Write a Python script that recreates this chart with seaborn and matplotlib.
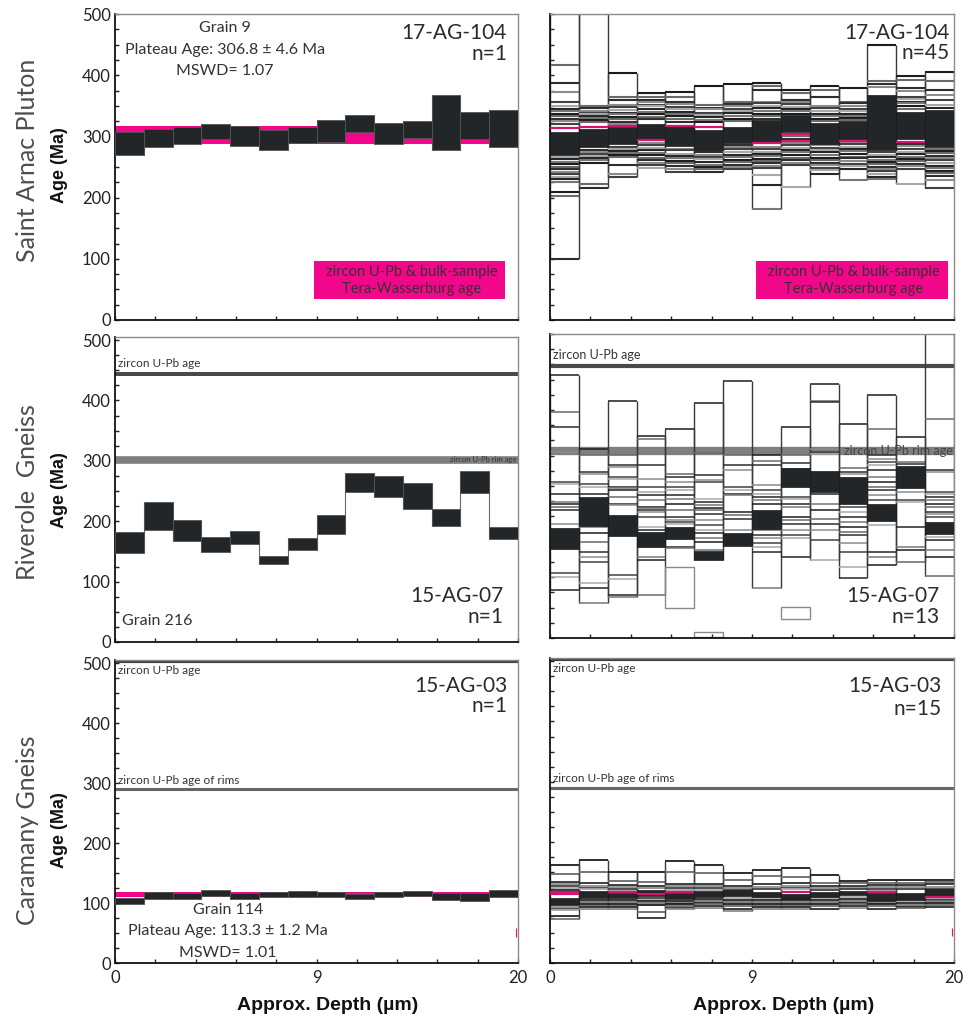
import matplotlib
matplotlib.use("Agg")
import matplotlib.pyplot as plt
from matplotlib.patches import Rectangle
import numpy as np
import seaborn as sns

sns.set_theme(style="white")
plt.rcParams['font.family'] = ['Lato', 'DejaVu Sans']

# ------------------------------------------------------------------ data
samples = ["17-AG-104", "15-AG-07", "15-AG-03"]
rock_names = ["Saint Arnac Pluton", "Riverole  Gneiss", "Caramany Gneiss"]
n_single = ["n=1", "n=1", "n=1"]
n_all = ["n=45", "n=13", "n=15"]
depth_tick_labels = ["0", "9", "20"]
age_ticks = [0, 100, 200, 300, 400, 500]
n_steps = 14

# single highlighted grains (step ages, low / high, Ma)
grain9_low = [269, 283, 287, 295, 285, 278, 289.5, 290.7, 306.6, 288, 298, 277, 295, 283]
grain9_high = [308, 311.5, 315, 321, 316.5, 310, 315, 326, 334.6, 322.5, 324.7, 367.6, 340, 343]
grain216_low = [147, 185, 168, 149, 163, 129, 151.7, 179.4, 247.8, 240, 220.6, 192.8, 246.7, 170.6]
grain216_high = [181.7, 231.7, 202.8, 174, 183, 143, 172, 210.6, 280, 275, 264, 220, 283, 190.6]
grain114_low = [98.5, 106.8, 106.8, 111, 106, 109.5, 110.5, 109.5, 106, 109.5, 112.2, 105, 104, 110.5]
grain114_high = [108.4, 118.8, 116, 121.6, 116, 118.8, 120.5, 117.7, 115, 117.7, 119.4, 116, 116, 122]

# zircon U-Pb / Tera-Wasserburg bands
tw_band_104 = [288, 317]
tw_band_03 = [110, 119]
upb_07 = [444, 448]          # left / right panel
rim_07 = [302, 307]
upb_03 = 503
rim_03 = 290

# all grains: box edges per depth step
tr_edges = [
    [500, 417, 387, 372, 356, 349, 344, 341, 337, 333, 329, 325, 321, 266, 263, 258, 255, 250, 247, 242, 238, 234, 231, 226, 209, 202, 100],
    [500, 349, 346, 342, 339, 337, 333, 330, 327, 323, 278, 275, 271, 268, 265, 261, 256, 223, 215],
    [404, 364, 360, 351, 348, 343, 339, 336, 332, 329, 324, 320, 283, 280, 276, 273, 270, 267, 253, 239, 234],
    [371, 365, 360, 357, 352, 349, 344, 340, 337, 332, 328, 289, 286, 281, 278, 273, 270, 265, 262, 257, 253, 249],
    [372, 364, 356, 353, 348, 345, 340, 336, 333, 328, 324, 280, 277, 272, 268, 265, 260, 256, 252, 247, 242],
    [383, 351, 347, 344, 339, 335, 332, 327, 323, 278, 275, 270, 266, 263, 258, 254, 250, 246, 242],
    [386, 357, 353, 350, 345, 341, 338, 333, 329, 325, 286, 282, 279, 274, 270, 267, 262, 258, 254, 250, 246],
    [387, 382, 376, 357, 354, 349, 346, 341, 337, 333, 329, 283, 280, 275, 271, 268, 263, 259, 256, 251, 248, 237, 220, 182],
    [376, 371, 360, 356, 353, 348, 344, 341, 336, 300, 295, 289, 286, 281, 277, 274, 269, 265, 262, 257, 253, 217],
    [383, 376, 365, 349, 346, 341, 337, 334, 329, 325, 289, 286, 281, 277, 274, 269, 265, 262, 257, 253, 249, 245, 238],
    [379, 357, 354, 349, 345, 342, 337, 333, 330, 326, 295, 291, 288, 283, 279, 276, 271, 267, 264, 259, 255, 251, 247, 228],
    [450, 390, 385, 380, 274, 270, 267, 262, 258, 255, 250, 246, 243, 238, 234, 230],
    [398, 392, 379, 374, 365, 361, 357, 354, 349, 345, 287, 284, 279, 275, 272, 267, 263, 260, 255, 251, 247, 223],
    [406, 390, 376, 368, 360, 352, 347, 280, 276, 273, 268, 264, 261, 256, 252, 249, 244, 240, 236, 229, 216],
]
tr_pink_step = [0, 1, 2, 3, 4, 5, 7, 8, 8, 10, 12]
tr_pink_age = [313, 315, 317, 294, 317, 316, 290, 304, 292, 293, 291]

mr_edges = [
    [433, 371.6, 347, 306, 256.7, 253, 237.5, 224, 221, 215.7, 210, 188.3, 106.3, 100.8, 78.8],
    [311.4, 300.5, 273, 269, 254, 248.4, 237.5, 182.9, 172, 158, 141.9, 133.6, 125.4, 89.8, 81.6, 58],
    [389.5, 300.5, 284, 281, 264.8, 262, 248.4, 246, 243, 232, 221, 218, 103.5, 96.4, 70.6, 67.9],
    [331.7, 327.8, 284, 262, 248.4, 240, 235, 226.6, 215.7, 213, 210.2, 207.5, 199.3, 182.9, 177.4, 133.6, 128.2, 70.6],
    [344.3, 270.3, 264.8, 256.7, 248.4, 243, 234.7, 229.4, 221.2, 210.2, 199.3, 193.8, 191, 188.3, 150, 147.3],
    [386.3, 304.4, 267.6, 259.4, 256.7, 229.4, 224, 218.5, 213, 210.2, 204.7, 193.8, 185.6, 177.4, 172, 163.7, 158.3, 144.6],
    [422.5, 300.5, 284, 275.9, 248.4, 243, 237.5, 234.7, 207.5, 202, 196.5, 177.4],
    [300.5, 291, 284, 251, 243, 237.5, 232, 226.6, 221.2, 177.4, 169.2, 163.7, 155.5, 150, 141.9, 81.6],
    [347, 300.5, 288, 278.6, 232, 229.4, 221.2, 215.7, 199.3, 193.8, 188.3, 177.4, 169.2, 163.7, 133.6],
    [417, 389.5, 388, 311.4, 306, 303, 237.5, 221.2, 210.2, 196.5, 188.3, 177.4, 161, 128.2],
    [352, 279, 273, 270.3, 215.7, 207.5, 199.3, 191, 182.9, 174.7, 169.2, 155.5, 141.9, 117, 98],
    [399, 344, 300.5, 295, 289.6, 284, 275.9, 264.8, 256.7, 248.4, 243, 234.7, 226.6, 185.6, 141.9, 133.6, 120],
    [330.6, 289.6, 285.7, 240, 226.6, 224, 182.9, 150, 144.6, 125.4],
    [500, 360, 276, 273, 240, 237.5, 232, 226.6, 221.2, 215.7, 207.5, 204.7, 199.3, 166.5, 161, 144.6, 133.6, 102],
]
mr_iso_step = [4, 5, 8]
mr_iso_low = [50, 2, 32]
mr_iso_high = [116, 10, 51.5]

br_edges = [
    [163, 148, 134, 130, 127, 124, 121, 105, 102, 99, 96, 93, 90, 87, 78, 73],
    [170, 151, 132, 128, 125, 122, 104, 101, 98, 95, 92, 89],
    [151, 136, 129, 126, 123, 120, 104, 101, 98, 95, 92, 89],
    [151, 134, 127, 124, 108, 105, 102, 99, 96, 85, 75],
    [169, 151, 130, 127, 124, 121, 103, 100, 97, 94, 91, 89],
    [163, 149, 131, 127, 124, 121, 106, 103, 100, 97, 94, 91],
    [149, 137, 128, 124, 121, 107, 104, 101, 98, 95, 89, 86],
    [154, 144, 130, 126, 123, 107, 104, 101, 98, 95, 92, 89],
    [158, 142, 132, 128, 125, 122, 104, 101, 98, 95, 92, 90],
    [146, 133, 128, 124, 121, 107, 104, 101, 98, 95, 89],
    [136, 132, 128, 125, 122, 109, 106, 103, 100, 97, 94, 91],
    [137, 133, 129, 126, 123, 120, 103, 100, 97, 94, 90],
    [138, 133, 129, 126, 123, 102, 99, 96, 93, 91],
    [138, 134, 130, 126, 123, 108, 105, 102, 99, 96, 93],
]
br_pink_step = [0, 0, 2, 3, 4, 8, 11, 13]
br_pink_age = [118, 114, 117, 114, 117, 117, 117, 110]

# ------------------------------------------------------------------ style
PINK = "#f2078b"
BLACK = "#232629"
LINE_GRAYS = ["#1c1c1c", "#6a6a6a", "#2e2e2e", "#8c8c8c", "#414141", "#a8a8a8", "#262626", "#777777"]

W, H = 969, 1019
fig = plt.figure(figsize=(W / 100, H / 100), dpi=100)
fig.patch.set_facecolor("white")


def add_ax(x0, x1, y0, y1):
    return fig.add_axes([x0 / W, 1 - y1 / H, (x1 - x0) / W, (y1 - y0) / H])


axTL = add_ax(115, 518, 14, 320)
axTR = add_ax(550, 954, 14, 320)
axML = add_ax(115, 518, 337, 642)
axMR = add_ax(550, 954, 334, 638)
axBL = add_ax(115, 518, 660, 963)
axBR = add_ax(550, 954, 658, 963)


def style(ax, ytop, ylabels, xlabels):
    ax.set_xlim(0, n_steps)
    ax.set_ylim(0, ytop)
    ax.set_facecolor("white")
    ax.grid(False)
    ax.set_yticks(age_ticks)
    ax.set_yticks(np.arange(0, 501, 25), minor=True)
    ax.set_yticklabels([str(a) for a in age_ticks] if ylabels else [])
    ax.set_xticks([0, n_steps / 2, n_steps])
    ax.set_xticks(np.linspace(0, n_steps, 11), minor=True)
    ax.set_xticklabels(depth_tick_labels if xlabels else [])
    ax.tick_params(which="both", direction="in", length=3, width=1.0, color="#222",
                   labelsize=12, labelcolor="#222", pad=3)
    ax.tick_params(axis="y", which="both", left=True, right=False)
    ax.tick_params(axis="x", which="both", bottom=True, top=False, pad=5)
    for s in ["left", "bottom"]:
        ax.spines[s].set_color("#111")
        ax.spines[s].set_linewidth(1.3)
    for s in ["top", "right"]:
        ax.spines[s].set_color("#8a8a8a")
        ax.spines[s].set_linewidth(1.0)
    ax.set_xlabel("")
    ax.set_ylabel("")


def draw_single(ax, low, high, band=None):
    low = np.asarray(low, float)
    high = np.asarray(high, float)
    x = np.arange(n_steps)
    if band is not None:
        ax.axhspan(band[0], band[1], color=PINK, lw=0, zorder=1)
    # step connectors
    for i in range(1, n_steps):
        ax.vlines(i, min(low[i - 1], low[i]), max(high[i - 1], high[i]),
                  color="#6a6a6a", lw=0.8, zorder=2)
    ax.bar(x, high - low, bottom=low, width=1.0, align="edge",
           color=BLACK, edgecolor="#555", linewidth=0.6, zorder=3)


def draw_all(ax, edges, low, high, pink_step=(), pink_age=(), iso=None, lw=1.4):
    low = np.asarray(low, float)
    high = np.asarray(high, float)
    for i, e in enumerate(edges):
        lo = min(min(e), low[i])
        hi = max(max(e), high[i])
        ax.vlines([i, i + 1], lo, hi, color="#3a3a3a", lw=1.0, zorder=2)
        cols = [LINE_GRAYS[k % len(LINE_GRAYS)] for k in range(len(e))]
        ax.hlines(e, i, i + 1, colors=cols, lw=lw, zorder=2)
    if iso is not None:
        for s, lo, hi in zip(*iso):
            ax.add_patch(Rectangle((s, lo), 1, hi - lo, fill=False,
                                   edgecolor="#8a8a8a", lw=1.0, zorder=2))
    ax.bar(np.arange(n_steps), high - low, bottom=low, width=1.0, align="edge",
           color=BLACK, edgecolor="#1a1a1a", linewidth=0.5, zorder=3)
    for s, a in zip(pink_step, pink_age):
        ax.hlines(a, s, s + 1, color="#d8126e", lw=1.6, zorder=4)


def pink_box(ax, x0, x1, y0, y1):
    ax.add_patch(Rectangle((x0, y0), x1 - x0, y1 - y0, transform=ax.transAxes,
                           facecolor=PINK, edgecolor="none", zorder=5))
    ax.text((x0 + x1) / 2 + 0.005, y0 + (y1 - y0) * 0.72, "zircon U-Pb & bulk-sample",
            transform=ax.transAxes, ha="center", va="center", fontsize=10.5,
            color="#333", zorder=6)
    ax.text((x0 + x1) / 2 + 0.005, y0 + (y1 - y0) * 0.27, "Tera-Wasserburg age",
            transform=ax.transAxes, ha="center", va="center", fontsize=10.5,
            color="#333", zorder=6)


def sample_label(ax, x, y1, y2, name, n):
    ax.text(x, y1, name, transform=ax.transAxes, ha="right", va="center",
            fontsize=15, color="#2b2b2b", zorder=6)
    ax.text(x, y2, n, transform=ax.transAxes, ha="right", va="center",
            fontsize=15, color="#2b2b2b", zorder=6)


# ---------------- row 1 : 17-AG-104
style(axTL, 500, True, False)
draw_single(axTL, grain9_low, grain9_high, band=tw_band_104)
for yy, t in zip([0.954, 0.882, 0.814],
                 ["Grain 9", "Plateau Age: 306.8 \u00b1 4.6 Ma", "MSWD= 1.07"]):
    axTL.text(0.273, yy, t, transform=axTL.transAxes, ha="center", va="center",
              fontsize=11.5, color="#333")
sample_label(axTL, 0.973, 0.938, 0.870, samples[0], n_single[0])
pink_box(axTL, 0.494, 0.968, 0.069, 0.193)

style(axTR, 500, False, False)
draw_all(axTR, tr_edges, grain9_low, grain9_high, tr_pink_step, tr_pink_age, lw=1.5)
sample_label(axTR, 0.988, 0.938, 0.873, samples[0], n_all[0])
pink_box(axTR, 0.51, 0.985, 0.069, 0.193)

# ---------------- row 2 : 15-AG-07
style(axML, 505, True, False)
axML.axhline(upb_07[0], color="#4a4a4a", lw=2.9, zorder=1.5)
axML.axhline(rim_07[0], color="#7f7f7f", lw=5.5, zorder=1.5)
axML.text(0.12, upb_07[0] + 8, "zircon U-Pb age", fontsize=8.5, color="#333", va="bottom", ha="left")
axML.text(13.95, rim_07[0], "zircon U-Pb rim age", fontsize=5.5, color="#333",
          va="center", ha="right", zorder=2)
draw_single(axML, grain216_low, grain216_high)
axML.text(0.017, 0.069, "Grain 216", transform=axML.transAxes, ha="left", va="center",
          fontsize=11.5, color="#333")
sample_label(axML, 0.965, 0.151, 0.082, samples[1], n_single[1])

style(axMR, 500, False, False)
axMR.axhline(upb_07[1], color="#4a4a4a", lw=3.0, zorder=1.5)
axMR.axhline(rim_07[1], color="#7f7f7f", lw=6.0, zorder=1.5)
axMR.text(0.12, upb_07[1] + 8, "zircon U-Pb age", fontsize=9, color="#333", va="bottom", ha="left")
draw_all(axMR, mr_edges, grain216_low, grain216_high,
         iso=(mr_iso_step, mr_iso_low, mr_iso_high), lw=1.1)
axMR.text(13.95, rim_07[1], "zircon U-Pb rim age", fontsize=9, color="#444",
          va="center", ha="right", zorder=5)
sample_label(axMR, 0.965, 0.138, 0.069, samples[1], n_all[1])

# ---------------- row 3 : 15-AG-03
for ax, right in [(axBL, False), (axBR, True)]:
    style(ax, 505, not right, True)
    ax.axhline(upb_03, color="#444", lw=3.0, zorder=1.5)
    ax.axhline(rim_03, color="#666", lw=2.2, zorder=1.5)
    ax.text(0.12, 487, "zircon U-Pb age", fontsize=8.5, color="#333", va="center", ha="left")
    ax.text(0.12, 305, "zircon U-Pb age of rims", fontsize=8.5, color="#333", va="center", ha="left")
    ax.vlines(13.93, 44, 58, color=PINK, lw=0.8, zorder=2)

draw_single(axBL, grain114_low, grain114_high, band=tw_band_03)
for yy, t in zip([0.175, 0.106, 0.033],
                 ["Grain 114", "Plateau Age: 113.3 \u00b1 1.2 Ma", "MSWD= 1.01"]):
    axBL.text(0.28, yy, t, transform=axBL.transAxes, ha="center", va="center",
              fontsize=11.5, color="#333")
sample_label(axBL, 0.973, 0.914, 0.848, samples[2], n_single[2])

draw_all(axBR, br_edges, grain114_low, grain114_high, br_pink_step, br_pink_age, lw=1.3)
sample_label(axBR, 0.970, 0.908, 0.833, samples[2], n_all[2])

# ---------------- figure-level labels
for yc, name in zip([160, 492, 830], rock_names):
    fig.text(28 / W, 1 - yc / H, name, rotation=90, ha="center", va="center",
             fontsize=18, color="#4d4d4d")
for yc in [165, 490, 830]:
    fig.text(60 / W, 1 - yc / H, "Age (Ma)", rotation=90, ha="center", va="center",
             fontsize=13, fontweight="bold", family=["Liberation Sans", "DejaVu Sans"],
             color="#111")
for xc in [328, 784]:
    fig.text(xc / W, 1 - 1005 / H, "Approx. Depth (\u00b5m)", ha="center", va="center",
             fontsize=14, fontweight="bold", family=["Liberation Sans", "DejaVu Sans"],
             color="#111")

fig.savefig("out.png", dpi=100, facecolor="white")
